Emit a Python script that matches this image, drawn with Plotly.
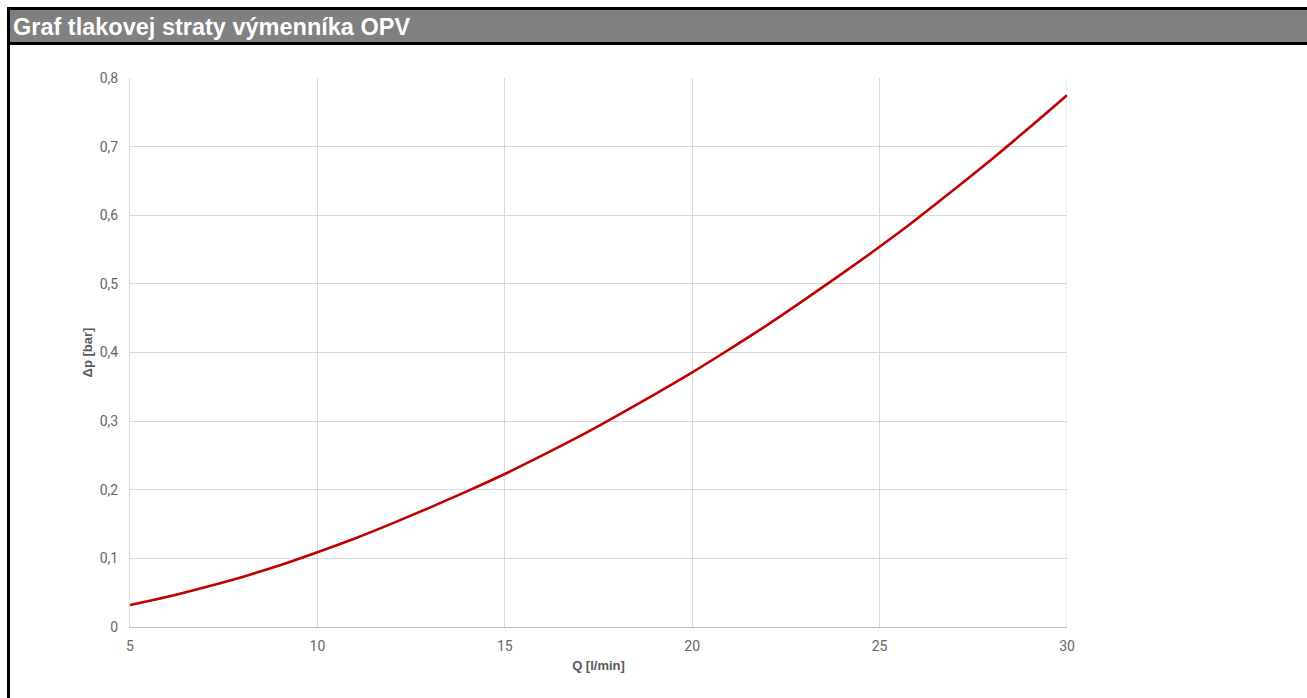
import plotly.graph_objects as go

# Data
flow_q = [5, 6, 7, 8, 9, 10, 11, 12, 13, 14, 15, 16, 17, 18, 19, 20,
          21, 22, 23, 24, 25, 26, 27, 28, 29, 30]
dp_bar = [0.032, 0.044, 0.058, 0.073, 0.090, 0.109, 0.129, 0.151, 0.174, 0.198,
          0.223, 0.250, 0.278, 0.308, 0.339, 0.371, 0.405, 0.440, 0.477, 0.515,
          0.554, 0.595, 0.638, 0.682, 0.728, 0.775]
x_ticks = [5, 10, 15, 20, 25, 30]
y_ticks = [0, 0.1, 0.2, 0.3, 0.4, 0.5, 0.6, 0.7, 0.8]
y_tick_labels = ["0", "0,1", "0,2", "0,3", "0,4", "0,5", "0,6", "0,7", "0,8"]
title_text = "Graf tlakovej straty výmenníka OPV"

W, H = 1307, 698
L, R, T, B = 130, 1067, 78, 627  # plot area in pixels


def px(x):
    return (x - L) / (R - L)


def py(y):
    return (B - y) / (B - T)


fig = go.Figure()
fig.add_trace(go.Scatter(
    x=flow_q, y=dp_bar, mode="lines",
    line=dict(color="#c00000", width=2.6, shape="spline"),
    hoverinfo="skip", showlegend=False,
))

tick_font = dict(family="Roboto, Arial, sans-serif", size=14, color="#666666")
title_font = dict(family="Arial, Liberation Sans, sans-serif", size=13, color="#595959")

fig.update_layout(
    width=W, height=H, autosize=False,
    margin=dict(l=L, r=W - R, t=T, b=H - B, pad=0),
    paper_bgcolor="white", plot_bgcolor="white",
    separators=",.",
    xaxis=dict(
        range=[5, 30], automargin=False,
        tickvals=x_ticks, ticks="outside", ticklen=6, tickcolor="rgba(0,0,0,0)",
        showgrid=True, gridcolor="#d9d9d9", gridwidth=1,
        showline=True, linecolor="#bfbfbf", linewidth=1,
        zeroline=False, tickfont=tick_font,
        title=dict(text="<b>Q [l/min]</b>", font=title_font, standoff=8),
    ),
    yaxis=dict(
        range=[0, 0.8], automargin=False,
        tickvals=y_ticks, ticktext=y_tick_labels,
        ticks="outside", ticklen=8, tickcolor="rgba(0,0,0,0)",
        showgrid=True, gridcolor="#d9d9d9", gridwidth=1,
        showline=True, linecolor="#d9d9d9", linewidth=1,
        zeroline=False, tickfont=tick_font,
        title=dict(text="<b>Δp [bar]</b>", font=title_font, standoff=4),
    ),
    shapes=[
        # right frame of plot area
        dict(type="line", xref="x", yref="y", x0=30, x1=30, y0=0, y1=0.8,
             line=dict(color="#d9d9d9", width=1), layer="below"),
        # black band behind title
        dict(type="rect", xref="paper", yref="paper", x0=px(7), x1=px(W + 5), y0=py(45), y1=py(7),
             fillcolor="black", line=dict(width=0)),
        # grey title bar
        dict(type="rect", xref="paper", yref="paper", x0=px(10), x1=px(W + 5), y0=py(42), y1=py(10),
             fillcolor="#808080", line=dict(width=0)),
        # left border
        dict(type="rect", xref="paper", yref="paper", x0=px(7), x1=px(10), y0=py(H + 5), y1=py(7),
             fillcolor="black", line=dict(width=0)),
    ],
    annotations=[
        dict(text="<b>" + title_text + "</b>", xref="paper", yref="paper",
             x=px(11), y=py(27), xanchor="left", yanchor="middle", showarrow=False,
             font=dict(family="Arial, Liberation Sans, sans-serif", size=23.5, color="white")),
    ],
)

fig.write_html(
    "out.html",
    config={"responsive": False, "displayModeBar": False},
    post_script="document.body.style.margin='0';document.body.style.overflow='hidden';",
)
